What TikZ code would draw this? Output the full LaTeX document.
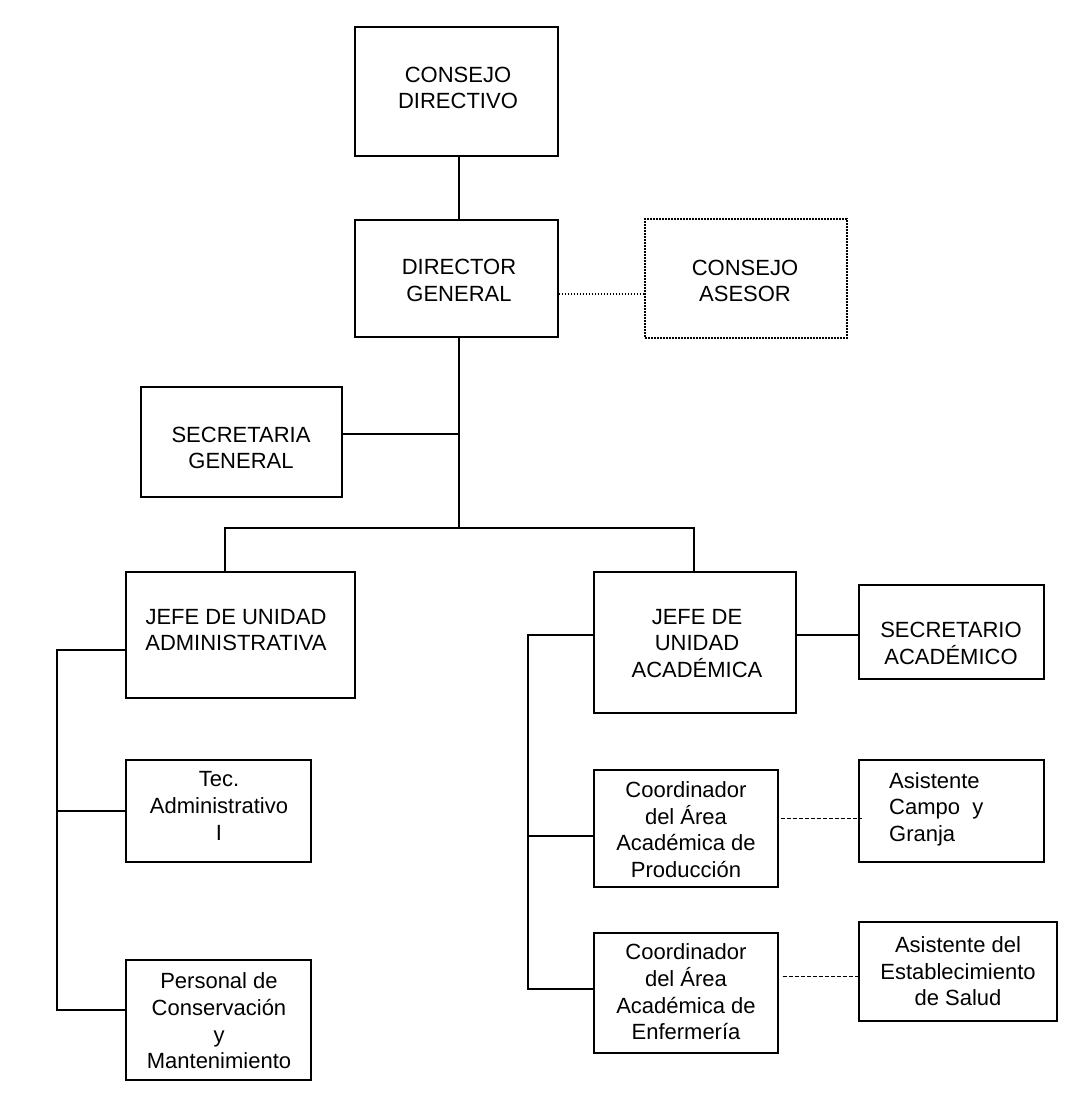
\documentclass[tikz,border=0pt]{standalone}
\usepackage{fontspec}
\setmainfont{Liberation Sans}
\begin{document}
\begin{tikzpicture}[x=1pt,y=-1pt,
  box/.style={draw, line width=1.4pt, inner sep=0pt, rectangle},
  dotbox/.style={draw, line width=1.4pt, inner sep=0pt, rectangle, dash pattern=on 1.6pt off 1.4pt},
  txt/.style={align=center, inner sep=0pt, font=\fontsize{22}{26.6}\selectfont},
  conn/.style={line width=1.4pt},
  dashconn/.style={line width=1pt, dash pattern=on 4pt off 2pt},
  dotconn/.style={line width=1.6pt, dash pattern=on 1.6pt off 1.4pt}]
\useasboundingbox (0,0) rectangle (1083,1114);
\fill[white] (0,0) rectangle (1083,1114);

% boxes
\node[box, minimum width=203pt, minimum height=129pt] (cd) at (456.5,91.5) {};
\node[box, minimum width=203pt, minimum height=117pt] (dg) at (456.5,278.5) {};
\node[dotbox, minimum width=202pt, minimum height=119pt] (ca) at (746,278.5) {};
\node[box, minimum width=201pt, minimum height=110pt] (sg) at (241.5,442) {};
\node[box, minimum width=229pt, minimum height=126pt] (jua) at (240.5,635) {};
\node[box, minimum width=185pt, minimum height=102pt] (tec) at (218.5,811) {};
\node[box, minimum width=185pt, minimum height=120pt] (pcm) at (218.5,1020) {};
\node[box, minimum width=202pt, minimum height=141pt] (jac) at (695,642.5) {};
\node[box, minimum width=185pt, minimum height=94pt] (sac) at (951.5,632) {};
\node[box, minimum width=184pt, minimum height=117pt] (cap) at (686,828.5) {};
\node[box, minimum width=185pt, minimum height=102pt] (ccg) at (951.5,811) {};
\node[box, minimum width=184pt, minimum height=120pt] (cae) at (686,993) {};
\node[box, minimum width=198pt, minimum height=99pt] (aes) at (958,971.5) {};

% texts
\node[txt] (cdt) at (458,88) {CONSEJO\\DIRECTIVO};
\node[txt] (dgt) at (459,280.5) {DIRECTOR\\GENERAL};
\node[txt] (cat) at (745,281) {CONSEJO\\ASESOR};
\node[txt] (sgt) at (241,448) {SECRETARIA\\GENERAL};
\node[txt] (juat) at (236,630) {JEFE DE UNIDAD\\ADMINISTRATIVA};
\node[txt] (tect) at (219,806) {Tec.\\Administrativo\\I};
\node[txt] (pcmt) at (219,1021) {Personal de\\Conservación\\y\\Mantenimiento};
\node[txt] (jact) at (697,643.5) {JEFE DE\\UNIDAD\\ACADÉMICA};
\node[txt] (sact) at (951,643.5) {SECRETARIO\\ACADÉMICO};
\node[txt] (capt) at (686,829.5) {Coordinador\\del Área\\Académica de\\Producción};
\node[txt, align=left, anchor=west] (ccgt) at (889,809) {Asistente\\Campo\ \ y\\Granja};
\node[txt] (caet) at (686,992) {Coordinador\\del Área\\Académica de\\Enfermería};
\node[txt] (aest) at (958,971.5) {Asistente del\\Establecimiento\\de Salud};

% coordinates
\coordinate (bus) at (459,528);
\coordinate (busL) at (225,528);
\coordinate (busR) at (694,528);
\coordinate (sgc) at (459,434);
\coordinate (la) at (57,650);
\coordinate (lb) at (57,1010);
\coordinate (lt) at (57,811);
\coordinate (ra) at (528,635);
\coordinate (rm) at (528,836);
\coordinate (rb) at (528,989);
\coordinate (dt) at (0,294);
\coordinate (d1) at (0,818);
\coordinate (d2) at (0,976);

% connectors
\draw[conn] (cd.south -| bus) -- (dg.north -| bus);
\draw[dotconn] (dt -| dg.east) -- (dt -| ca.west);
\draw[conn] (dg.south -| bus) -- (bus);
\draw[conn] (sgc -| sg.east) -- (sgc);
\draw[conn] (busL |- jua.north) -- (busL) -- (busR) -- (busR |- jac.north);
\draw[conn] (la -| jua.west) -- (la) -- (lb) -- (lb -| pcm.west);
\draw[conn] (lt) -- (tec.west);
\draw[conn] (ra -| jac.west) -- (ra) -- (rb) -- (rb -| cae.west);
\draw[conn] (rm) -- (rm -| cap.west);
\draw[line width=2.6pt] (ra -| jac.east) -- (ra -| sac.west);
\draw[dashconn] ([xshift=2pt]d1 -| cap.east) -- ([xshift=4pt]d1 -| ccg.west);
\draw[dashconn] ([xshift=4pt]d2 -| cae.east) -- ([xshift=1pt]d2 -| aes.west);
\end{tikzpicture}
\end{document}
